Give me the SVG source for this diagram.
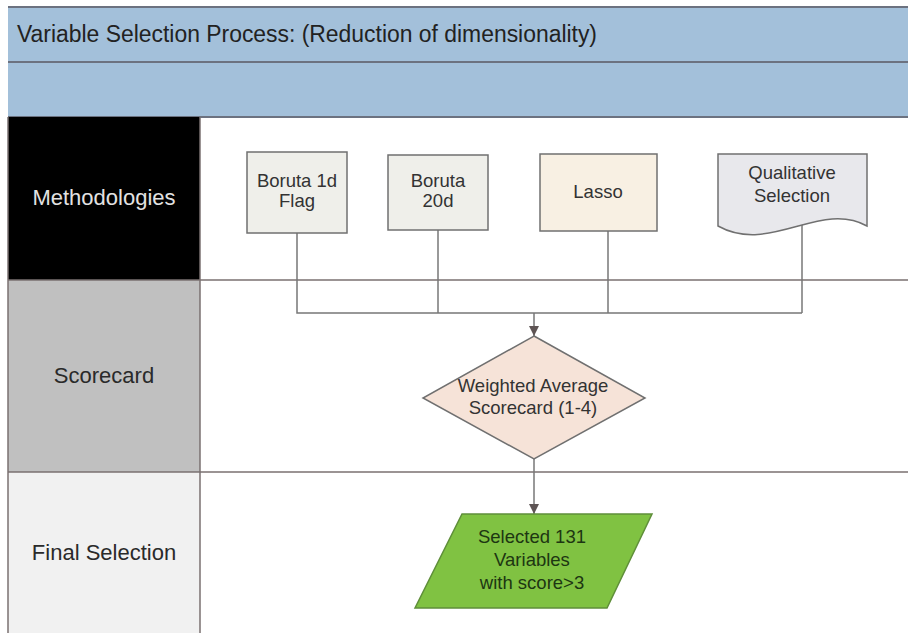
<svg xmlns="http://www.w3.org/2000/svg" width="908" height="633" viewBox="0 0 908 633">
  <style>
    .lbl { font-family: "Liberation Sans", Arial, sans-serif; font-size: 22px; text-anchor: middle; fill: #2a2a2a; }
    .nt { font-family: "Liberation Sans", Arial, sans-serif; font-size: 18.5px; text-anchor: middle; fill: #333; }
    .grid { stroke: #7a7070; stroke-width: 1.5; fill: none; }
    .hdr { stroke: #6c7280; stroke-width: 2; }
    .box { stroke: #707070; stroke-width: 1.5; }
    .conn { stroke: #777; stroke-width: 1.5; fill: none; }
  </style>
  <defs>
    <marker id="arrow" viewBox="0 0 10 10" refX="10" refY="5" markerWidth="10" markerHeight="10" markerUnits="userSpaceOnUse" orient="auto">
      <path d="M0,0 L10,5 L0,10 Z" fill="#5e5454"/>
    </marker>
  </defs>

  <!-- background -->
  <rect x="0" y="0" width="908" height="633" fill="#ffffff"/>

  <!-- header band -->
  <g id="header">
    <rect x="8" y="7" width="900" height="110" fill="#a3c0da"/>
    <line class="hdr" x1="8" y1="7" x2="908" y2="7"/>
    <line class="hdr" x1="8" y1="62" x2="908" y2="62"/>
    <line class="hdr" x1="8" y1="117" x2="908" y2="117"/>
    <text x="17" y="42" font-family="Liberation Sans, Arial, sans-serif" font-size="23" fill="#222" textLength="580" lengthAdjust="spacingAndGlyphs">Variable Selection Process: (Reduction of dimensionality)</text>
  </g>

  <!-- swimlanes -->
  <g id="lane-methodologies">
    <rect x="8" y="117" width="192" height="163" fill="#000000"/>
    <text class="lbl" x="104" y="205" style="fill:#e2e2e2">Methodologies</text>
  </g>
  <g id="lane-scorecard">
    <rect x="8" y="280" width="192" height="192" fill="#c0c0c0"/>
    <text class="lbl" x="104" y="383">Scorecard</text>
  </g>
  <g id="lane-final">
    <rect x="8" y="472" width="192" height="161" fill="#f1f1f1"/>
    <text class="lbl" x="104" y="560">Final Selection</text>
  </g>
  <g id="grid">
    <line class="grid" x1="8" y1="117" x2="8" y2="633"/>
    <line class="grid" x1="200" y1="117" x2="200" y2="633"/>
    <line class="grid" x1="8" y1="280" x2="908" y2="280"/>
    <line class="grid" x1="8" y1="472" x2="908" y2="472"/>
  </g>

  <!-- connectors -->
  <g id="connectors">
    <polyline class="conn" points="297,233 297,313 802,313"/>
    <line class="conn" x1="438" y1="230" x2="438" y2="313"/>
    <line class="conn" x1="608" y1="231" x2="608" y2="313"/>
    <line class="conn" x1="802" y1="223" x2="802" y2="313"/>
    <line class="conn" x1="534" y1="313" x2="534" y2="336" marker-end="url(#arrow)"/>
    <line class="conn" x1="534" y1="459" x2="534" y2="514" marker-end="url(#arrow)"/>
  </g>

  <!-- nodes -->
  <g id="boruta-1d">
    <rect class="box" x="247" y="152" width="100" height="81" fill="#efefea"/>
    <text class="nt" x="297" y="187">Boruta 1d</text>
    <text class="nt" x="297" y="207">Flag</text>
  </g>
  <g id="boruta-20d">
    <rect class="box" x="388" y="155" width="100" height="75" fill="#efefea"/>
    <text class="nt" x="438" y="187">Boruta</text>
    <text class="nt" x="438" y="207">20d</text>
  </g>
  <g id="lasso">
    <rect class="box" x="540" y="154" width="117" height="77" fill="#f8f0e3"/>
    <text class="nt" x="598" y="198">Lasso</text>
  </g>
  <g id="qualitative">
    <path class="box" d="M718,154 H867 V226 C820,200 770,255 718,226 Z" fill="#e8e8ec"/>
    <text class="nt" x="792" y="179">Qualitative</text>
    <text class="nt" x="792" y="202">Selection</text>
  </g>
  <g id="scorecard">
    <polygon class="box" points="534,336 645,398 534,459 423,398" fill="#f6e3d8"/>
    <text class="nt" x="533" y="392">Weighted Average</text>
    <text class="nt" x="533" y="414">Scorecard (1-4)</text>
  </g>
  <g id="final-selection">
    <polygon points="462,514 652,514 607,608 415,608" fill="#80c242" stroke="#5f8f3a" stroke-width="1.5"/>
    <text class="nt" x="532" y="543" style="fill:#1d3612">Selected 131</text>
    <text class="nt" x="532" y="566" style="fill:#1d3612">Variables</text>
    <text class="nt" x="532" y="589" style="fill:#1d3612">with score&gt;3</text>
  </g>
</svg>
